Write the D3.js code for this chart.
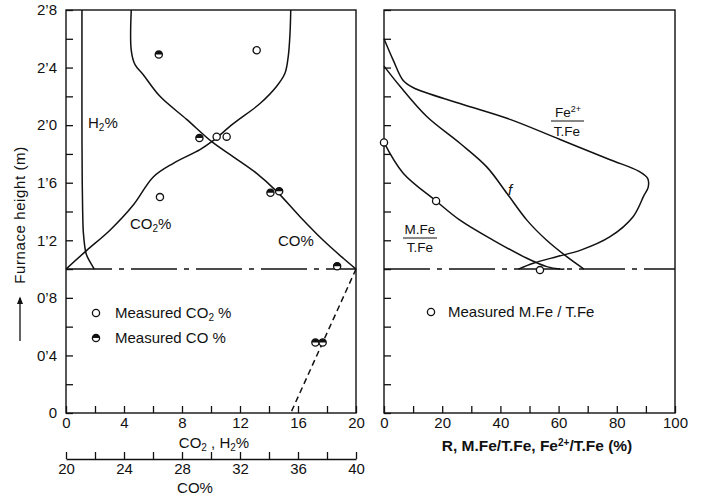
<!DOCTYPE html>
<html>
<head>
<meta charset="utf-8">
<script src="https://cdn.jsdelivr.net/npm/d3@7"></script>
<style>
  body { margin: 0; background: #fff; }
  svg text { font-family: "Liberation Sans", Arial, sans-serif; fill: #111; }
</style>
</head>
<body>
<svg id="chart" width="701" height="497"></svg>
<script>
// ---- data (height in m) ----
// left panel: H2 and CO2 in % (0-20 axis), CO in % (20-40 axis)
const h2Curve = [[1.1, 2.8], [1.1, 2.4], [1.1, 2.0], [1.12, 1.6], [1.15, 1.4], [1.2, 1.25], [1.38, 1.11], [1.6, 1.06], [1.95, 1.0]];
const co2Curve = [[0, 1.0], [1.43, 1.13], [3.03, 1.27], [4.64, 1.445], [6.02, 1.64], [7.4, 1.735], [9.24, 1.83], [10.05, 1.885],
  [11.54, 2.01], [13.38, 2.15], [14.53, 2.27], [15.1, 2.36], [15.33, 2.48], [15.45, 2.64], [15.5, 2.8]];
const coCurve = [[24.5, 2.8], [24.5, 2.52], [24.76, 2.42], [25.33, 2.35], [26.48, 2.2], [28.32, 2.04], [30.05, 1.885], [31.54, 1.78],
  [33.15, 1.665], [34.53, 1.54], [36.14, 1.364], [37.74, 1.2], [39.12, 1.075], [40, 1.0]];
const coExtrap = [[40, 1.0], [35.5, 0]];
const measuredCO2 = [[13.15, 2.52], [10.39, 1.92], [11.08, 1.92], [6.48, 1.5]];
const measuredCO = [[26.4, 2.49], [29.2, 1.91], [34.1, 1.53], [34.7, 1.54], [38.7, 1.02], [37.2, 0.49], [37.7, 0.49]];

// right panel: %
const fe2Curve = [[0, 2.6], [3.2, 2.45], [6.6, 2.31], [10.1, 2.26], [26.1, 2.15], [43.3, 2.04], [60.5, 1.9], [77.7, 1.76],
  [87.5, 1.68], [90.6, 1.63], [90.8, 1.57], [89.3, 1.51], [85.6, 1.364], [77.7, 1.225], [67.4, 1.13], [59.3, 1.086], [51.3, 1.04], [46.2, 1.0]];
const fCurve = [[0, 2.41], [5.5, 2.27], [14.7, 2.06], [26.1, 1.874], [35.3, 1.71], [42.2, 1.527], [49.1, 1.34], [55.9, 1.2], [62.8, 1.086], [68.7, 1.0]];
const mfeCurve = [[0, 1.88], [6.6, 1.666], [17.9, 1.473], [26.1, 1.34], [37.6, 1.2], [49.1, 1.075], [55.9, 1.017], [60.5, 1.0], [62, 1.0]];
const measuredMFe = [[0, 1.88], [17.9, 1.473], [53.6, 0.993]];

const heightTicks = d3.range(0, 2.81, 0.2);
const gasTicks = d3.range(0, 21, 2);
const coTicks = d3.range(20, 41, 2);
const rTicks = d3.range(0, 101, 10);

const svg = d3.select("#chart");

const yScale = d3.scaleLinear().domain([0, 2.8]).range([413, 10]);
const xGas = d3.scaleLinear().domain([0, 20]).range([66, 356]);
const xCO = d3.scaleLinear().domain([20, 40]).range([66, 356]);
const xR = d3.scaleLinear().domain([0, 100]).range([384, 675]);

function fmtDec(v) {
  if (Math.abs(v) < 1e-6) return "0";
  return v.toFixed(1).replace(".", "\u2019");
}

function curve(data, xs, opts) {
  const line = d3.line().x(d => xs(d[0])).y(d => yScale(d[1])).curve(d3.curveCatmullRom.alpha(0.5));
  return svg.append("path").datum(data).attr("d", line)
    .attr("fill", "none").attr("stroke", "#111").attr("stroke-width", 1.5)
    .attr("stroke-dasharray", opts && opts.dash ? opts.dash : null);
}

function openDots(data, xs) {
  svg.append("g").selectAll("circle").data(data).join("circle")
    .attr("cx", d => xs(d[0])).attr("cy", d => yScale(d[1])).attr("r", 3.6)
    .attr("fill", "#fff").attr("stroke", "#111").attr("stroke-width", 1.3);
}

function halfDot(g, cx, cy) {
  const r = 3.6;
  g.append("circle").attr("cx", cx).attr("cy", cy).attr("r", r)
    .attr("fill", "#fff").attr("stroke", "#111").attr("stroke-width", 1.3);
  g.append("path")
    .attr("d", `M${cx - r},${cy} A${r},${r} 0 0 1 ${cx + r},${cy} Z`)
    .attr("fill", "#111");
}

function halfDots(data, xs) {
  const g = svg.append("g");
  data.forEach(d => halfDot(g, xs(d[0]), yScale(d[1])));
}

// ---- frames ----
[[xGas], [xR]].forEach(([xs]) => {
  svg.append("rect")
    .attr("x", xs.range()[0]).attr("y", yScale(2.8))
    .attr("width", xs.range()[1] - xs.range()[0]).attr("height", yScale(0) - yScale(2.8))
    .attr("fill", "none").attr("stroke", "#111").attr("stroke-width", 1.4);
  svg.append("line")
    .attr("x1", xs.range()[0]).attr("x2", xs.range()[1])
    .attr("y1", yScale(1.0)).attr("y2", yScale(1.0))
    .attr("stroke", "#111").attr("stroke-width", 1.6)
    .attr("stroke-dasharray", "46 7 5 7");
});

// ---- axes ----
const axisStyle = g => {
  g.select(".domain").remove();
  g.selectAll(".tick line").attr("stroke", "#111").attr("stroke-width", 1.3);
  g.selectAll("text").attr("font-size", 15).attr("fill", "#111");
};

svg.append("g").attr("transform", `translate(${xGas.range()[0]},0)`)
  .call(d3.axisLeft(yScale).tickValues(heightTicks).tickSize(-7).tickPadding(9)
    .tickFormat(v => Math.round(v * 10) % 4 === 0 ? fmtDec(v) : ""))
  .call(axisStyle);

svg.append("g").attr("transform", `translate(${xR.range()[0]},0)`)
  .call(d3.axisLeft(yScale).tickValues(heightTicks).tickSize(-7).tickFormat(""))
  .call(axisStyle);

svg.append("g").attr("transform", `translate(0,${yScale(0)})`)
  .call(d3.axisBottom(xGas).tickValues(gasTicks).tickSize(-7).tickPadding(4)
    .tickFormat(v => v % 4 === 0 ? v : ""))
  .call(axisStyle);

svg.append("g").attr("transform", `translate(0,${yScale(0)})`)
  .call(d3.axisBottom(xR).tickValues(rTicks).tickSize(-7).tickPadding(4)
    .tickFormat(v => v % 20 === 0 ? v : ""))
  .call(axisStyle);

const coAxis = svg.append("g").attr("transform", "translate(0,459)")
  .call(d3.axisBottom(xCO).tickValues(coTicks).tickSize(-7).tickSizeOuter(0).tickPadding(4)
    .tickFormat(v => v % 4 === 0 ? v : ""));
coAxis.select(".domain").attr("stroke", "#111").attr("stroke-width", 1.4);
coAxis.selectAll(".tick line").attr("stroke", "#111").attr("stroke-width", 1.3);
coAxis.selectAll("text").attr("font-size", 15).attr("fill", "#111");

// axis titles
svg.append("text").attr("x", 214).attr("y", 448).attr("text-anchor", "middle").attr("font-size", 15)
  .html('CO<tspan font-size="10" dy="3">2</tspan><tspan dy="-3"> , H</tspan><tspan font-size="10" dy="3">2</tspan><tspan dy="-3">%</tspan>');
svg.append("text").attr("x", 195).attr("y", 493).attr("text-anchor", "middle").attr("font-size", 15).text("CO%");
svg.append("text").attr("x", 537).attr("y", 451).attr("text-anchor", "middle").attr("font-size", 15.5).attr("font-weight", "bold")
  .html('R, M.Fe/T.Fe, Fe<tspan font-size="10" dy="-5">2+</tspan><tspan dy="5">/T.Fe (%)</tspan>');

svg.append("text").attr("transform", "translate(25,215) rotate(-90)").attr("text-anchor", "middle")
  .attr("font-size", 15).attr("letter-spacing", 0.6).text("Furnace height  (m)");
svg.append("defs").append("marker").attr("id", "arr").attr("viewBox", "0 0 10 10")
  .attr("refX", 8).attr("refY", 5).attr("markerWidth", 6).attr("markerHeight", 6).attr("orient", "auto")
  .append("path").attr("d", "M0,1 L10,5 L0,9 Z").attr("fill", "#111");
svg.append("line").attr("x1", 20).attr("x2", 20).attr("y1", 341).attr("y2", 298)
  .attr("stroke", "#111").attr("stroke-width", 1.3).attr("marker-end", "url(#arr)");

// ---- left panel ----
curve(h2Curve, xGas);
curve(co2Curve, xGas);
curve(coCurve, xCO);
curve(coExtrap, xCO, { dash: "6 4" });
openDots(measuredCO2, xGas);
halfDots(measuredCO, xCO);

svg.append("text").attr("x", 88).attr("y", 128).attr("font-size", 15)
  .html('H<tspan font-size="10" dy="3">2</tspan><tspan dy="-3">%</tspan>');
svg.append("text").attr("x", 130).attr("y", 229).attr("font-size", 15)
  .html('CO<tspan font-size="10" dy="3">2</tspan><tspan dy="-3">%</tspan>');
svg.append("text").attr("x", 278).attr("y", 246).attr("font-size", 15).text("CO%");

// legend left
const legL = svg.append("g");
legL.append("circle").attr("cx", 96).attr("cy", 313).attr("r", 3.6)
  .attr("fill", "#fff").attr("stroke", "#111").attr("stroke-width", 1.3);
halfDot(legL, 96, 338);
legL.append("text").attr("x", 115).attr("y", 318).attr("font-size", 15)
  .html('Measured  CO<tspan font-size="10" dy="3">2</tspan><tspan dy="-3"> %</tspan>');
legL.append("text").attr("x", 115).attr("y", 343).attr("font-size", 15).text("Measured  CO  %");

// ---- right panel ----
curve(fe2Curve, xR);
curve(fCurve, xR);
curve(mfeCurve, xR);
openDots(measuredMFe, xR);

svg.append("text").attr("x", 568).attr("y", 117).attr("text-anchor", "middle").attr("font-size", 13.5)
  .html('Fe<tspan font-size="9" dy="-5">2+</tspan>');
svg.append("line").attr("x1", 551).attr("x2", 584).attr("y1", 121).attr("y2", 121).attr("stroke", "#111").attr("stroke-width", 1.2);
svg.append("text").attr("x", 567).attr("y", 136).attr("text-anchor", "middle").attr("font-size", 13.5).text("T.Fe");

svg.append("text").attr("x", 420).attr("y", 234).attr("text-anchor", "middle").attr("font-size", 13.5).text("M.Fe");
svg.append("line").attr("x1", 403).attr("x2", 437).attr("y1", 238).attr("y2", 238).attr("stroke", "#111").attr("stroke-width", 1.2);
svg.append("text").attr("x", 420).attr("y", 252).attr("text-anchor", "middle").attr("font-size", 13.5).text("T.Fe");

svg.append("text").attr("x", 508).attr("y", 195).attr("font-size", 15).attr("font-style", "italic").text("f");

const legR = svg.append("g");
legR.append("circle").attr("cx", 431).attr("cy", 312).attr("r", 3.6)
  .attr("fill", "#fff").attr("stroke", "#111").attr("stroke-width", 1.3);
legR.append("text").attr("x", 448).attr("y", 317).attr("font-size", 15).text("Measured  M.Fe / T.Fe");
</script>
</body>
</html>
